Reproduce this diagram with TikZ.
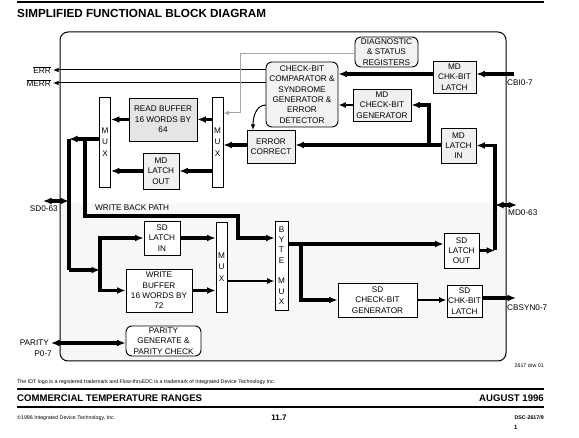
\documentclass[tikz,border=0pt]{standalone}
\usepackage{fontspec}
\setmainfont{Liberation Sans}
\usetikzlibrary{arrows.meta}
\newcommand{\boxfont}{\fontsize{8.2}{10.3}\selectfont}
\newcommand{\tinyfont}{\fontsize{5.3}{6.3}\selectfont}
\newcommand{\ttlfont}{\bfseries\fontsize{11.7}{13}\selectfont}
\newcommand{\ftrfont}{\bfseries\fontsize{9.6}{11}\selectfont}
\tikzset{
  blk/.style={draw, line width=0.9pt, fill=white, inner sep=0pt, align=center, font=\boxfont},
  shaded/.style={blk, fill=black!6},
  rblk/.style={blk, rounded corners=6pt},
  muxbox/.style={blk, minimum width=11pt, minimum height=90pt},
  lbl/.style={inner sep=0pt, font=\boxfont},
  bus/.style={line width=3.3pt, >={Latex[length=8.5pt,width=7pt]}},
  midbus/.style={line width=2.3pt, >={Latex[length=7.5pt,width=6pt]}},
  wire/.style={line width=1pt, >={Latex[length=5.5pt,width=4.5pt]}},
}
\begin{document}
\begin{tikzpicture}[x=1pt,y=-1pt]
\useasboundingbox (0,0) rectangle (579,438);

% title
\draw[line width=2.5pt] (17,2) -- (544,2);
\node[anchor=west, inner sep=0pt, font=\ttlfont] (title) at (17,13) {SIMPLIFIED FUNCTIONAL BLOCK DIAGRAM};

% frame
\begin{scope}
  \clip[rounded corners=8pt] (60,32) rectangle (506,361);
  \fill[black!3] (60,203) rectangle (506,361);
\end{scope}
\draw[line width=1pt, rounded corners=8pt] (60,32) rectangle (506,361);

% blocks
\node[rblk, fill=black!5, minimum width=63pt, minimum height=30pt] (diag) at (386.5,52) {DIAGNOSTIC\\\& STATUS\\REGISTERS};
\node[rblk, fill=black!5, minimum width=72pt, minimum height=65pt] (chk) at (302,94.5) {CHECK-BIT\\COMPARATOR \&\\SYNDROME\\GENERATOR \&\\ERROR\\DETECTOR};
\node[shaded, minimum width=43pt, minimum height=32pt] (mdchl) at (454.5,77) {MD\\CHK-BIT\\LATCH};
\node[shaded, minimum width=58pt, minimum height=32pt] (mdcbg) at (382,105) {MD\\CHECK-BIT\\GENERATOR};
\node[shaded, minimum width=48pt, minimum height=33pt] (ecor) at (271,146.5) {ERROR\\CORRECT};
\node[shaded, minimum width=35pt, minimum height=35pt] (mdli) at (458.5,145.5) {MD\\LATCH\\IN};
\node[muxbox] (lmux) at (105,142) {M\\[1pt]U\\[1pt]X};
\node[muxbox] (rmux) at (217.5,142) {M\\[1pt]U\\[1pt]X};
\node[shaded, fill=black!10, minimum width=68pt, minimum height=43pt] (rbuf) at (163,119.5) {READ BUFFER\\16 WORDS BY\\64};
\node[shaded, minimum width=36pt, minimum height=36pt] (mdlo) at (161,171) {MD\\LATCH\\OUT};
\node[blk, minimum width=36pt, minimum height=34pt] (sdli) at (162,238) {SD\\LATCH\\IN};
\node[blk, minimum width=66pt, minimum height=43pt] (wbuf) at (159,290.5) {WRITE\\BUFFER\\16 WORDS BY\\72};
\node[muxbox] (wmux) at (221.5,267) {M\\[1pt]U\\[1pt]X};
\node[muxbox, minimum width=13pt, minimum height=89pt] (bmux) at (281.5,265.5) {B\\Y\\T\\E\\[10.3pt]M\\U\\X};
\node[rblk, minimum width=75pt, minimum height=30pt] (par) at (163.5,341) {PARITY\\GENERATE \&\\PARITY CHECK};
\node[blk, minimum width=35pt, minimum height=35pt] (sdlo) at (461.5,250.5) {SD\\LATCH\\OUT};
\node[blk, minimum width=79pt, minimum height=34pt] (sdcbg) at (377.5,300) {SD\\CHECK-BIT\\GENERATOR};
\node[blk, minimum width=35pt, minimum height=32pt] (sdcl) at (464.5,301) {SD\\CHK-BIT\\LATCH};

% error outputs
\coordinate (err) at (53,70);
\coordinate (merr) at (53,83);
\draw[wire,->] (chk.west |- err) -- (err);
\draw[wire,->] (chk.west |- merr) -- (merr);
\node[lbl, anchor=east] (errl) at (51,70) {$\overline{\mbox{ERR}}$};
\node[lbl, anchor=east] (merrl) at (51,83) {$\overline{\mbox{MERR}}$};

% diagnostic path
\coordinate (g0) at (240,54);
\coordinate (g1) at (240,113);
\draw[wire, black!35, ->] (diag.west |- g0) -- (g0) -- (g1) -- (rmux.east |- g1);
\coordinate (c0) at (266,105);
\coordinate (c1) at (253,130);
\draw[wire,->] (c0) to[out=180,in=90] (c1);

% MD side
\coordinate (cbi) at (514,74);
\node[lbl, anchor=west] (cbil) at (507,83) {CBI0-7};
\draw[bus,->] (cbi) -- (mdchl.east |- cbi);
\draw[bus,->] (mdchl.west |- cbi) -- (chk.east |- cbi);
\draw[midbus,->] (mdcbg.west) -- (chk.east |- mdcbg.west);
\coordinate (jmd) at (429,145);
\draw[bus,->] (mdli.west |- jmd) -- (ecor.east |- jmd);
\draw[bus,->] (jmd) |- (mdcbg.east);
\draw[bus,->] (ecor.west |- jmd) -- (rmux.east |- jmd);

% read path
\draw[bus,->] (rmux.west |- rbuf.east) -- (rbuf.east);
\draw[bus,->] (rbuf.west) -- (lmux.east |- rbuf.west);
\draw[bus,->] (rmux.west |- mdlo.east) -- (mdlo.east);
\draw[bus,->] (mdlo.west) -- (lmux.east |- mdlo.west);

% SD bus
\coordinate (sdtop) at (69,139);
\coordinate (sdbot) at (69,270);
\coordinate (jw) at (100,270);
\draw[bus,->] (lmux.west |- sdtop) -- (sdtop);
\draw[bus] (sdtop) -- (sdbot);
\draw[bus,->] (sdbot) -- (jw);
\draw[bus,->] (jw) |- (sdli.west);
\draw[bus,->] (jw) |- (wbuf.west);
\coordinate (sd) at (43,201);
\draw[bus,<->] (sd) -- (sd -| sdtop);
\node[lbl, anchor=east] (sdl) at (58,209) {SD0-63};

% write back path
\coordinate (wb0) at (85,139);
\coordinate (wb1) at (238,216);
\draw[bus,->] (wb0) |- (wb1) |- (bmux.west |- sdli.east);
\node[lbl, anchor=west] (wbl) at (95,208) {WRITE BACK PATH};

% write path
\draw[bus,->] (sdli.east) -- (wmux.west |- sdli.east);
\draw[bus,->] (wbuf.east) -- (wmux.west |- wbuf.east);
\coordinate (wm) at (227,281);
\draw[midbus,->] (wm) -- (bmux.west |- wm);
\coordinate (bo) at (288,244);
\coordinate (jb) at (301,244);
\draw[bus,->] (bo) -- (sdlo.west |- bo);
\draw[bus,->] (jb) |- (sdcbg.west);
\draw[midbus,->] (sdcbg.east) -- (sdcl.west |- sdcbg.east);
\coordinate (cbs) at (516,298);
\draw[bus,->] (sdcl.east |- cbs) -- (cbs);
\node[lbl, anchor=west] (cbsl) at (507,308) {CBSYN0-7};

% MD bus
\coordinate (md) at (495,205);
\coordinate (mdend) at (517,205);
\draw[bus,->] (sdlo.east) -- (sdlo.east -| md);
\draw[bus,->] (sdlo.east -| md) |- (mdli.east);
\draw[bus,<->] (md) -- (mdend);
\node[lbl, anchor=west] (mdl) at (508,213) {MD0-63};

% parity
\coordinate (pty) at (51,343);
\draw[bus,<->] (pty) -- (par.west |- pty);
\node[lbl, anchor=east] (ptyl) at (49,343) {PARITY};
\node[lbl, anchor=east] (p07l) at (52,354) {P0-7};

% footer
\node[anchor=east, inner sep=0pt, font=\tinyfont] (drw) at (544,366) {2617 drw 01};
\node[anchor=west, inner sep=0pt, font=\tinyfont] (tm) at (17,382) {The IDT logo is a registered trademark and Flow-thruEDC is a trademark of Integrated Device Technology Inc.};
\draw[line width=1.2pt] (17,389) -- (544,389);
\node[anchor=west, inner sep=0pt, font=\ftrfont] (rng) at (17,398) {COMMERCIAL TEMPERATURE RANGES};
\node[anchor=east, inner sep=0pt, font=\ftrfont] (date) at (544,398) {AUGUST 1996};
\draw[line width=2pt] (17,407) -- (544,407);
\node[anchor=west, inner sep=0pt, font=\tinyfont] (copy) at (17,418) {\textcopyright1996 Integrated Device Technology, Inc.};
\node[inner sep=0pt, font=\bfseries\fontsize{8}{9}\selectfont] (page) at (279,418) {11.7};
\node[anchor=east, inner sep=0pt, font=\bfseries\tinyfont] (dsc) at (544,418) {DSC-2617/9};
\node[anchor=west, inner sep=0pt, font=\bfseries\fontsize{6}{7}\selectfont] (one) at (514,427) {1};
\end{tikzpicture}
\end{document}
